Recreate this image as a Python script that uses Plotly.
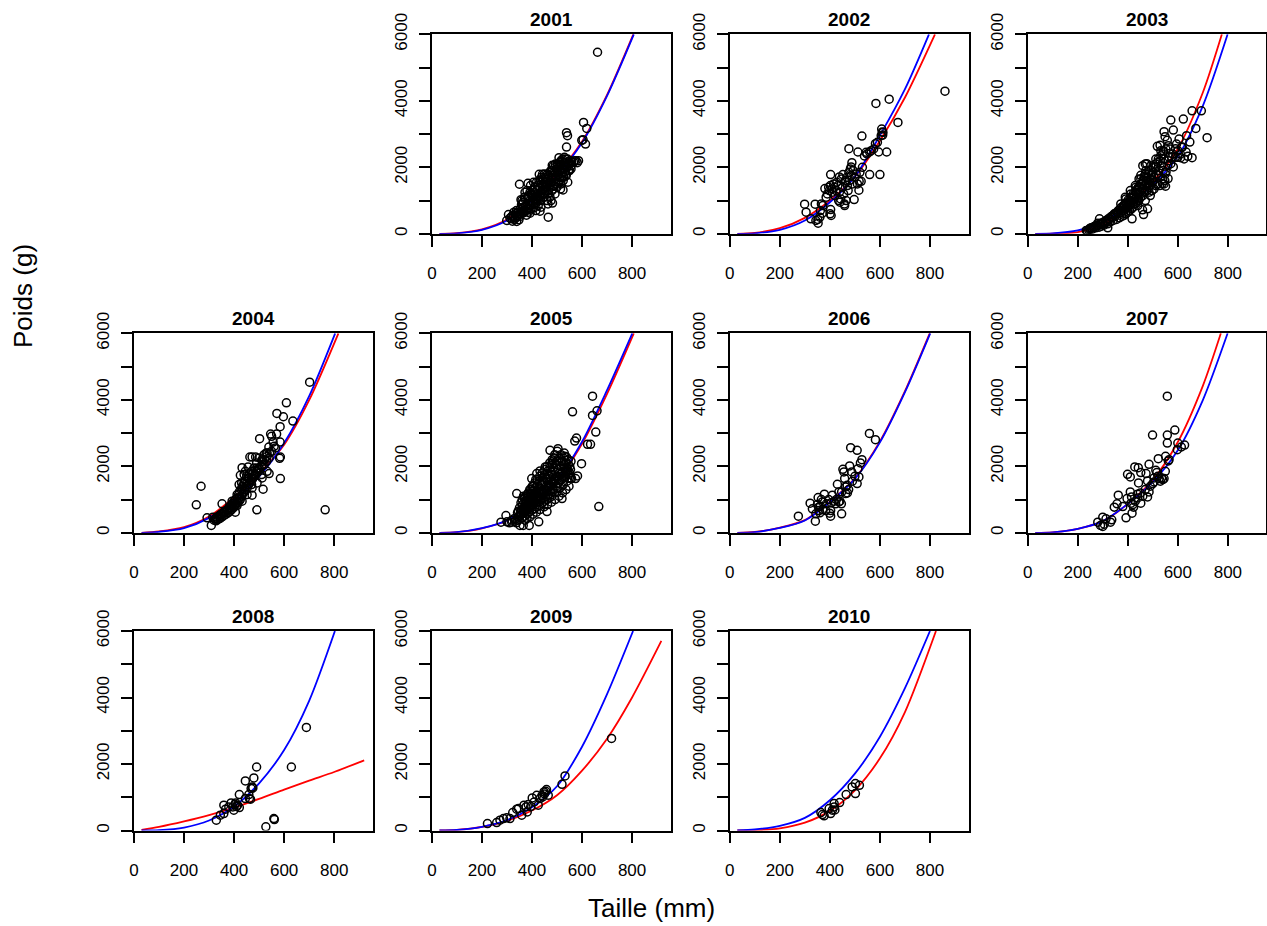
import plotly.graph_objects as go

# Relation taille-poids par année : observations (taille en mm, poids en g)
obs_2001 = [(662,5460),(606,3350),(619,3170),(538,3040),(542,2950),(538,2610),(599,2810),(604,2830),(614,2700),
            (581,2140),(508,2290),(465,500),(356,1025),(350,1490),(429,1790),(442,1790),(481,2060),(512,2010),
            (306,580),(299,400),(339,370),(482,925),(432,680),(545,2110),(558,2170),(570,2200),(530,2300),(520,2180),
            (312,470),(318,520),(325,560),(330,430),(335,610),(340,500),(344,650),(348,420),(352,720),(346,560),
            (328,650),(320,450),(338,700),(355,600),(358,880),(362,750),(365,950),(368,640),(372,1050),(375,820),
            (378,560),(380,1300),(383,900),(386,1150),(388,720),(391,1000),(394,1450),(396,850),(398,1200),(370,1100),
            (384,1520),(392,620),(360,1000),(401,1300),(403,950),(405,1100),(408,780),(410,1400),(412,1200),(415,900),
            (418,1550),(420,1050),(422,1300),(425,850),(428,1600),(430,1150),(432,1400),(435,1000),(438,1700),
            (440,1250),(443,1500),(446,1100),(448,1350),(450,1800),(406,1550),(416,700),(436,800),(444,1620),
            (452,1200),(455,1550),(458,1400),(460,1000),(462,1650),(465,1300),(468,1750),(470,1450),(472,1100),
            (475,1900),(478,1550),(480,1300),(483,1700),(486,2050),(488,1450),(490,1850),(492,1200),(495,1650),
            (498,1950),(500,1400),(476,1000),(464,900),(494,2100),(503,1750),(506,1550),(508,2100),(511,1900),
            (514,1350),(516,2200),(519,1700),(522,1950),(525,1600),(528,2050),(531,1850),(534,2250),(537,1750),
            (540,2000),(543,1550),(546,2100),(550,1900),(553,2200),(556,2050),(524,1320),
            (322,380),(332,480),(342,560),(352,520),(362,640),(372,700),(382,760),(392,850),(402,1000),(412,1050),
            (422,1100),(432,1200),(442,1300),(452,1400),(462,1500),(472,1600),(482,1750),(492,1700),(502,1850),
            (512,1700),(522,1850),(532,1950),(542,2050),(552,2100),(362,900),(372,1250),(382,1100),(392,1250),
            (402,1150),(412,1350),(422,1450),(432,1550),(442,1650),(452,1700),(462,1800),(472,1850),(482,1900),
            (492,2000),(502,2100),(512,2150),(522,2250),(532,2150),(542,2250),(352,600),(366,800),(376,700),
            (386,650),(396,750),(406,900),(416,950),(426,1000),(436,1100),(446,1200),(456,1250),(466,1200),
            (476,1400),(486,1350),(496,1500),(506,1600),(516,1500),(526,1700),(536,1800),(546,1900),(556,1950),
            (566,2150),(576,2200),(586,2200)]

obs_2002 = [(860,4290),(584,3920),(637,4050),(672,3350),(528,2940),(476,2560),(512,2460),(627,2460),(607,3150),
            (609,3060),(611,2970),(582,2710),(595,2460),(559,2460),(548,2400),(538,2340),(488,2140),(485,2010),
            (559,1780),(600,1780),(403,1780),(438,1710),(452,1780),(299,890),(305,650),(341,890),(353,320),
            (497,1030),(459,850),(516,1310),(517,1580),(525,1580),(401,600),(403,730),(405,550),(380,1360),
            (463,1610),(324,450),(344,400),(370,620),(352,430),(360,500),(362,700),(366,900),(372,850),(385,1100),
            (390,1200),(395,1400),(398,1300),(402,1450),(408,1350),(410,1250),(415,1500),(418,1400),(420,1150),
            (425,1300),(428,1550),(432,1450),(435,1000),(438,1250),(440,950),(443,1050),(446,1650),(450,1400),
            (455,1200),(458,900),(462,1550),(465,1000),(468,1700),(470,1450),(473,1300),(476,1850),(478,1600),
            (482,1950),(486,1750),(490,1500),(493,1900),(500,1700),(505,1800),(510,1500),(520,1850),(530,2000),
            (545,2450),(565,2500),(575,2550),(590,2750),(605,2950),(612,3050)]

obs_2003 = [(694,3700),(657,3700),(672,3170),(717,2890),(572,3420),(622,3450),(545,3070),(549,2920),(582,3120),
            (635,2950),(648,2760),(633,2460),(657,2290),(611,2290),(618,2610),(591,2560),(582,2010),(572,2110),
            (529,2660),(518,2630),(558,2810),(465,1730),(476,2110),(452,1760),(459,720),(463,580),(479,750),
            (417,450),(320,180),(280,320),(287,450),(254,180),(234,100),(538,1510),(551,1430),(561,1660),
            (553,1860),(600,2300),(610,2400),(625,2250),(640,2330),(595,2700),(605,2850),(570,2550),(565,2300),
            (545,2250),(540,2400),(535,2050),(530,2200),(525,1900),(520,2150),(515,1800),(510,2000),(505,1700),
            (500,1850),(498,1550),(495,1750),(490,1450),(488,1650),(485,1900),(482,1400),(480,1600),(477,1300),
            (474,1500),(471,1800),(468,1250),(466,1450),(463,1600),(460,1150),(458,1350),(455,1500),(452,1100),
            (450,1250),(447,1400),(444,1000),(442,1200),(440,1350),(437,950),(435,1100),(432,1250),(430,900),
            (428,1050),(425,1150),(422,800),(420,950),(418,1100),(415,750),(412,900),(410,1000),(407,700),
            (405,850),(402,950),(400,650),(397,800),(395,900),(392,600),(390,750),(387,850),(385,550),(382,700),
            (380,780),(376,520),(373,640),(370,720),(366,480),(362,600),(358,650),(355,430),(350,540),(346,600),
            (342,400),(338,480),(334,520),(330,360),(325,430),(320,300),(315,380),(310,330),(305,260),(300,300),
            (295,230),(290,280),(285,200),(280,250),(272,180),(265,220),(258,140),(250,170),(244,120),(238,90),
            (460,2050),(470,2100),(445,1650),(430,1450),(410,1300),(390,1100),(440,850),(470,1000),(490,1150),
            (505,1350),(520,1500),(540,1650),(550,1800),(560,2050),(575,2300),
            (248,150),(262,180),(276,260),(292,320),(302,350),(312,400),(322,450),(332,500),(342,560),(352,620),
            (362,700),(372,780),(382,850),(392,930),(402,1020),(412,1100),(422,1200),(432,1300),(442,1400),
            (452,1500),(462,1620),(472,1700),(482,1800),(492,1900),(502,2000),(512,2100),(522,2250),(532,2350),
            (542,2500),(552,2550),(562,2650),(372,900),(392,1050),(412,1200),(432,1400),(452,1650),(472,1900),
            (492,2050),(512,2250),(532,2500),(382,620),(402,780),(422,900),(442,1050),(462,1250),(482,1500),
            (502,1600),(522,1750),(542,1900),(562,2200),(580,2400),(590,2300),(600,2500),(615,2600),(545,1500),
            (548,1600),(528,1450),(512,1450),(497,1300),(485,1250)]

obs_2004 = [(702,4530),(609,3910),(635,3360),(571,3590),(597,3490),(584,3190),(546,2970),(570,2970),(502,2830),
            (584,2730),(556,2730),(585,2280),(582,2240),(539,2580),(528,2400),(585,1630),(540,1780),(516,1310),
            (491,690),(764,690),(472,1130),(268,1400),(249,840),(309,220),(292,450),(405,620),(352,870),(432,1960),
            (456,1980),(463,2280),(425,1730),(472,2280),(486,2280),(560,2600),(550,2900),(520,2350),(515,2150),
            (510,2000),(500,2250),(495,1900),(490,2100),(485,1750),(480,1950),(476,1650),(470,1850),(466,1550),
            (462,1800),(458,1450),(455,1650),(450,1400),(446,1550),(443,1300),(440,1500),(437,1200),(433,1400),
            (430,1100),(428,1300),(425,1000),(422,1250),(420,950),(418,1150),(415,900),(412,1050),(408,850),
            (405,1000),(402,800),(400,950),(397,750),(394,880),(390,700),(387,820),(384,650),(380,760),(376,600),
            (372,700),(368,560),(364,650),(360,520),(356,600),(352,480),(348,560),(344,430),(340,520),(336,400),
            (330,470),(325,420),(320,380),(315,470),(328,360),(450,1700),(460,1650),(470,1450),(480,1700),
            (490,1850),(500,1950),(510,1750),(520,2050),(530,2150),(540,2250),(550,2450),(565,2550),(440,1750),
            (430,1500),(420,1450),(445,1850),
            (332,430),(342,480),(352,560),(362,610),(372,660),(382,730),(392,800),(402,880),(412,960),(422,1050),
            (432,1150),(442,1250),(452,1350),(462,1500),(472,1600),(482,1750),(492,1800),(502,1900),(512,2050),
            (522,2200),(532,2300),(542,2400),(392,950),(412,1150),(432,1350),(452,1550),(472,1750),(492,1950),
            (512,2200),(532,2400),(412,820),(432,950),(452,1150),(472,1350),(492,1500),(512,1650),(532,1850)]

obs_2005 = [(642,4110),(562,3640),(642,3530),(660,3670),(655,3030),(578,2850),(571,2760),(622,2660),(634,2660),
            (598,2080),(582,1710),(558,1630),(574,1630),(667,790),(520,1030),(501,1350),(460,640),(427,330),
            (389,220),(339,1180),(296,520),(276,320),(319,320),(504,2530),(472,2480),(485,2160),(453,1980),
            (529,2400),(538,2280),(545,2200),(419,1780),(399,1630),(432,1860),(466,1700),(352,220),(365,220),
            (350,400),(355,550),(358,700),(360,450),(362,850),(365,600),(368,750),(370,500),(372,950),(375,680),
            (378,820),(380,560),(382,1050),(385,750),(387,900),(390,620),(392,1150),(395,800),(397,980),(400,680),
            (402,1250),(405,850),(407,1050),(410,720),(412,1350),(415,900),(417,1100),(420,780),(422,1450),
            (425,950),(427,1200),(430,820),(432,1550),(435,1000),(437,1250),(440,880),(442,1650),(445,1050),
            (447,1300),(450,950),(452,1750),(455,1100),(457,1400),(460,1000),(462,1850),(465,1150),(467,1450),
            (470,1050),(472,1950),(475,1250),(477,1550),(480,1100),(482,2050),(485,1300),(487,1600),(490,1200),
            (492,2100),(495,1400),(497,1700),(500,1250),(503,1900),(506,1500),(509,1800),(512,1350),(515,2000),
            (518,1600),(521,1850),(525,1450),(530,1950),(535,1700),(540,1550),(545,2050),(550,1800),(555,1650),
            (338,300),(342,600),(346,480),(333,350),(328,420),(320,380),(310,300),(300,330),(440,1500),(460,1600),
            (480,1750),(500,2150),(490,2250),(415,1600),(405,1400),(395,1300),(385,1200),(375,1100),(370,1050),
            (345,650),(350,750),(356,900),(361,1000),(366,1100),(371,800),(376,950),(381,1150),(386,1000),
            (391,1300),(396,1100),(401,1400),(406,1150),(411,1500),(416,1250),(421,1600),(426,1350),(431,1700),
            (436,1450),(441,1800),(446,1550),(451,1900),(456,1650),(461,2000),(466,1750),(471,2100),(476,1850),
            (481,2200),(486,1950),(491,2350),(496,2050),(501,2450),(506,2150),(511,2250),(516,2350),(521,2150),
            (526,2250),(531,2300),(536,2100),(541,1900),(546,1750),(551,2000),(556,2150),(344,380),(349,520),
            (354,620),(359,560),(364,700),(369,640),(374,760),(379,700),(384,850),(389,780),(394,920),(399,860),
            (404,980),(409,930),(414,1050),(419,1000),(424,1120),(429,1080),(434,1180),(439,1150),(444,1250),
            (449,1200),(454,1300),(459,1280),(464,1350),(469,1380),(474,1420),(479,1460),(484,1500),(489,1560),
            (494,1600),(499,1650),(504,1700),(509,1600),(514,1750),(519,1800),(524,1700),(529,1650),(534,1850),
            (539,1950),(544,1850),(549,1650),(554,1900),(372,380),(380,430),(392,480),(404,560),(418,620),
            (432,700),(448,780),(462,850),(478,920),(492,1000),(508,1100),(522,1200),(536,1300),(548,1400)]

obs_2006 = [(558,2990),(582,2800),(483,2560),(509,2480),(528,2200),(522,2100),(479,2010),(452,1910),(456,1830),
            (487,1830),(512,1930),(516,1680),(509,1480),(430,1460),(459,1630),(463,1380),(447,1230),(446,870),
            (447,570),(274,500),(342,350),(330,720),(353,1060),(378,1160),(355,770),(399,590),(403,500),(410,1130),
            (417,950),(423,870),(386,870),(370,930),(357,670),(321,890),(344,570),(403,670),(436,930),(463,1180),
            (469,1430),(436,1230),(383,670),(362,800),(366,1000),(350,850),(395,1000),(405,900),(426,1000),
            (440,950),(475,1300),(490,1550),(500,1700),(470,1200),(360,600),(372,700)]

obs_2007 = [(558,4110),(499,2940),(558,2940),(588,3090),(558,2700),(598,2500),(614,2580),(627,2640),(600,2700),
            (562,2160),(551,2300),(522,2230),(485,2060),(442,1960),(452,1810),(410,1680),(399,1760),(473,1780),
            (516,1810),(525,1630),(545,1630),(505,1530),(500,1480),(479,1560),(443,1500),(452,890),(439,1160),
            (479,1080),(485,1230),(410,1230),(415,1080),(362,1130),(357,870),(413,890),(417,590),(423,770),
            (393,450),(346,770),(380,790),(397,1030),(300,470),(313,420),(331,320),(336,390),(291,220),(300,190),
            (280,320),(306,260),(428,1980),(512,1880),(530,1550),(540,1600),(535,1650),(460,1100),(470,1300),
            (490,1400),(505,1650),(430,950),(440,1050),(450,1200),(420,850),(520,1700),(550,1850),(565,2200)]

obs_2008 = [(689,3100),(629,1910),(490,1910),(479,1580),(445,1490),(472,1310),(468,1260),(475,1280),(421,1080),
            (459,1080),(461,960),(445,960),(466,940),(414,760),(406,830),(388,830),(395,710),(399,610),(421,690),
            (359,760),(359,510),(329,310),(345,460),(559,360),(561,330),(527,110),(379,710),(366,640),(404,780),
            (410,720)]

obs_2009 = [(718,2770),(532,1640),(520,1390),(458,1230),(448,1160),(443,1010),(465,1060),(419,1060),(425,760),
            (401,980),(376,710),(368,760),(381,560),(346,660),(359,460),(323,540),(312,360),(286,360),(259,240),
            (222,210),(432,960),(409,860),(385,780),(339,640),(299,380),(272,310),(450,1100),(440,1050),(455,1180),
            (395,720)]

obs_2010 = [(502,1410),(489,1310),(518,1360),(502,1110),(465,1080),(439,840),(417,810),(410,610),(417,710),
            (403,510),(370,480),(377,440),(364,540),(397,660),(420,620)]

# Courbes ajustées (taille mm, poids g) : modèle rouge et modèle bleu
rouge_2001 = [(30,0),(100,20),(200,135),(300,430),(400,1050),(500,1800),(600,2780),(700,4180),(805,6000)]
bleu_2001 = [(30,0),(100,15),(200,120),(300,400),(400,1010),(500,1760),(600,2740),(700,4150),(807,6000)]
rouge_2002 = [(30,0),(100,25),(200,170),(300,480),(400,1000),(500,1720),(600,2800),(700,4100),(820,6000)]
bleu_2002 = [(30,0),(100,15),(200,120),(300,400),(400,950),(500,1720),(600,2960),(700,4350),(796,6000)]
rouge_2003 = [(30,0),(100,5),(200,50),(300,290),(400,820),(500,1560),(600,2560),(700,4250),(776,6000)]
bleu_2003 = [(30,0),(100,12),(200,100),(300,350),(400,850),(500,1480),(600,2330),(700,3850),(799,6000)]
rouge_2004 = [(30,0),(100,40),(200,170),(300,490),(400,1070),(500,1780),(600,2650),(700,3990),(817,6000)]
bleu_2004 = [(30,0),(100,30),(200,140),(300,450),(400,980),(500,1690),(600,2700),(700,4110),(804,6000)]
rouge_2005 = [(30,0),(100,20),(200,135),(300,370),(400,920),(500,1570),(600,2680),(700,4180),(807,6000)]
bleu_2005 = [(30,0),(100,20),(200,140),(300,375),(400,930),(500,1590),(600,2740),(700,4290),(801,6000)]
rouge_2006 = [(30,0),(100,25),(200,155),(300,380),(400,935),(500,1640),(600,2750),(700,4260),(799,6000)]
bleu_2006 = [(30,0),(100,20),(200,145),(300,370),(400,920),(500,1620),(600,2720),(700,4230),(801,6000)]
rouge_2007 = [(30,0),(100,15),(200,120),(300,350),(400,870),(500,1590),(600,2730),(700,4420),(772,6000)]
bleu_2007 = [(30,0),(100,15),(200,120),(300,350),(400,870),(500,1530),(600,2480),(700,3990),(799,6000)]
rouge_2008 = [(30,20),(100,110),(200,275),(300,465),(400,690),(500,950),(600,1230),(700,1500),(800,1760),(920,2110)]
bleu_2008 = [(30,0),(100,10),(200,90),(300,300),(400,720),(500,1420),(600,2420),(700,3900),(803,6000)]
rouge_2009 = [(30,0),(100,20),(200,110),(300,290),(400,600),(500,1060),(600,1800),(700,2760),(800,4000),(917,5700)]
bleu_2009 = [(30,0),(100,15),(200,110),(300,310),(400,700),(500,1330),(600,2520),(700,4100),(804,6000)]
rouge_2010 = [(30,0),(100,7),(200,65),(300,235),(400,590),(500,1210),(600,2170),(700,3560),(824,6000)]
bleu_2010 = [(30,0),(100,30),(200,140),(300,380),(400,910),(500,1710),(600,2820),(700,4280),(800,6000)]

annees = [2001, 2002, 2003, 2004, 2005, 2006, 2007, 2008, 2009, 2010]
observations = [obs_2001, obs_2002, obs_2003, obs_2004, obs_2005,
                obs_2006, obs_2007, obs_2008, obs_2009, obs_2010]
courbes_rouges = [rouge_2001, rouge_2002, rouge_2003, rouge_2004, rouge_2005,
                  rouge_2006, rouge_2007, rouge_2008, rouge_2009, rouge_2010]
courbes_bleues = [bleu_2001, bleu_2002, bleu_2003, bleu_2004, bleu_2005,
                  bleu_2006, bleu_2007, bleu_2008, bleu_2009, bleu_2010]

x_ticks = [0, 200, 400, 600, 800]
y_ticks = [0, 1000, 2000, 3000, 4000, 5000, 6000]
y_ticktext = ["0", "", "2000", "", "4000", "", "6000"]

# Grille 3 x 4 : la première case est vide
FIG_W, FIG_H = 1267, 926
cells = [(0, 1), (0, 2), (0, 3), (1, 0), (1, 1), (1, 2), (1, 3), (2, 0), (2, 1), (2, 2)]
col_left = [134.0, 431.9, 729.8, 1027.7]
row_top = [34.3, 333.3, 631.0]
panel_w, panel_h = 238.7, 199.5

FONT = "Liberation Sans, Arial, Helvetica, sans-serif"

fig = go.Figure()
layout = dict(
    template="none",
    width=FIG_W, height=FIG_H,
    margin=dict(l=0, r=0, t=0, b=0, pad=0, autoexpand=False),
    paper_bgcolor="white", plot_bgcolor="white",
    showlegend=False,
    font=dict(family=FONT, color="black"),
    annotations=[],
)

for i, (annee, obs, rouge, bleu) in enumerate(zip(annees, observations, courbes_rouges, courbes_bleues)):
    n = i + 1
    xa, ya = f"x{n}", f"y{n}"
    r, c = cells[i]
    left, top = col_left[c], row_top[r]
    x0, x1 = left / FIG_W, (left + panel_w) / FIG_W
    y1, y0 = 1 - top / FIG_H, 1 - (top + panel_h) / FIG_H

    fig.add_trace(go.Scatter(
        x=[p[0] for p in rouge], y=[p[1] for p in rouge], mode="lines",
        line=dict(color="#ff0000", width=1.8, shape="spline", smoothing=0.8),
        xaxis=xa, yaxis=ya, hoverinfo="skip"))
    fig.add_trace(go.Scatter(
        x=[p[0] for p in bleu], y=[p[1] for p in bleu], mode="lines",
        line=dict(color="#0000ff", width=1.8, shape="spline", smoothing=0.8),
        xaxis=xa, yaxis=ya, hoverinfo="skip"))
    fig.add_trace(go.Scatter(
        x=[p[0] for p in obs], y=[p[1] for p in obs], mode="markers",
        marker=dict(symbol="circle-open", size=8, color="black", line=dict(width=1.5, color="black")),
        xaxis=xa, yaxis=ya))

    axis_common = dict(
        automargin=False,
        showline=True, mirror=True, linecolor="black", linewidth=1.6,
        ticks="outside", ticklen=11, tickwidth=1.5, tickcolor="black",
        showgrid=False, zeroline=False,
        tickfont=dict(family=FONT, size=17, color="black"),
    )
    layout["xaxis" if n == 1 else f"xaxis{n}"] = dict(
        axis_common, domain=[x0, x1], anchor=ya, range=[0, 954],
        tickmode="array", tickvals=x_ticks, ticktext=[str(v) for v in x_ticks],
        ticklabelstandoff=12)
    layout["yaxis" if n == 1 else f"yaxis{n}"] = dict(
        axis_common, domain=[y0, y1], anchor=xa, range=[0, 6000],
        tickmode="array", tickvals=y_ticks, ticktext=y_ticktext, tickangle=-90,
        ticklabelstandoff=5)

    layout["annotations"].append(dict(
        text=f"<b>{annee}</b>", x=(left + panel_w / 2) / FIG_W, y=1 - (top - 14.6) / FIG_H,
        xref="paper", yref="paper", xanchor="center", yanchor="middle", showarrow=False,
        font=dict(family=FONT, size=19, color="black")))

layout["annotations"].append(dict(
    text="Poids (g)", x=23 / FIG_W, y=1 - 296 / FIG_H, xref="paper", yref="paper",
    xanchor="center", yanchor="middle", textangle=-90, showarrow=False,
    font=dict(family=FONT, size=26, color="black")))
layout["annotations"].append(dict(
    text="Taille (mm)", x=651 / FIG_W, y=1 - 908 / FIG_H, xref="paper", yref="paper",
    xanchor="center", yanchor="middle", showarrow=False,
    font=dict(family=FONT, size=26, color="black")))

fig.update_layout(**layout)
fig.write_html("out.html")
